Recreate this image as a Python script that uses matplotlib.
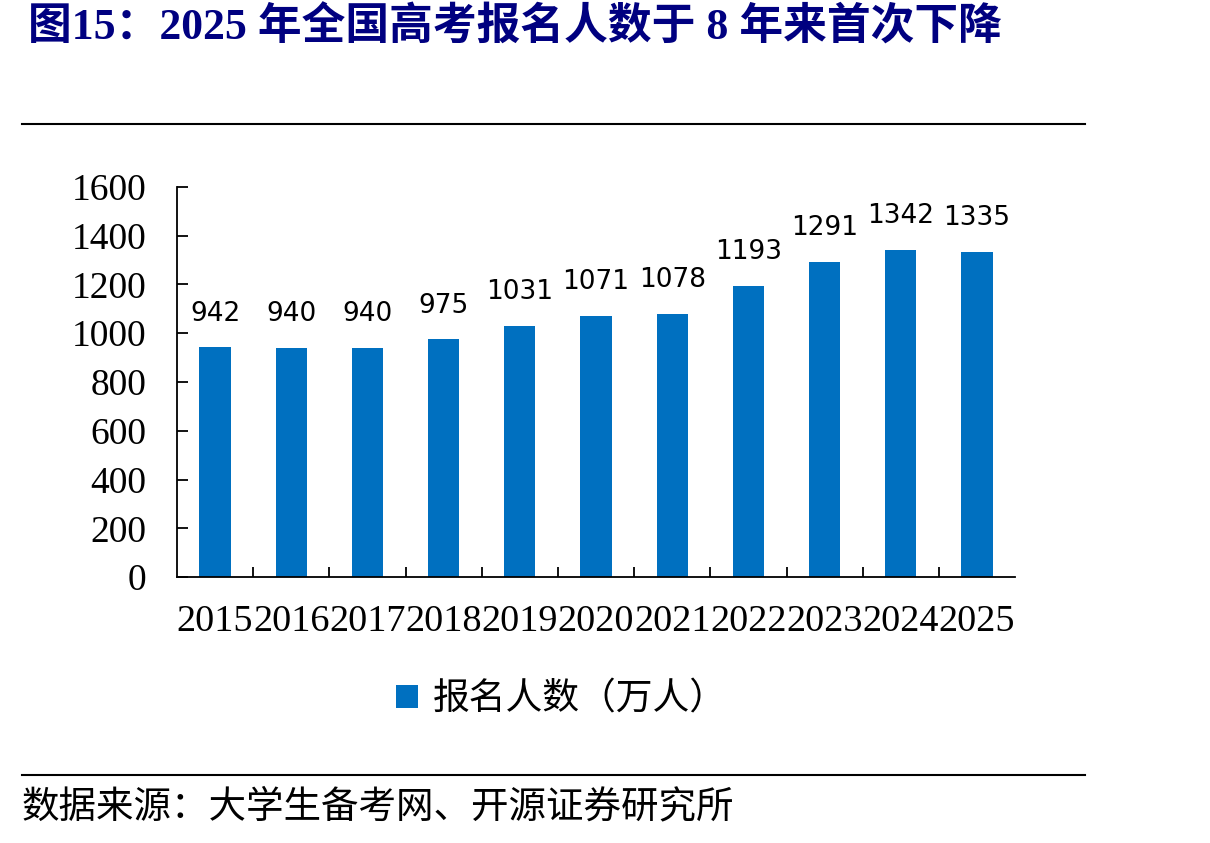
import matplotlib
matplotlib.use("Agg")
import matplotlib.pyplot as plt
from matplotlib.lines import Line2D
from matplotlib.ticker import FixedLocator

# --- data ---
years = ["2015", "2016", "2017", "2018", "2019", "2020", "2021", "2022", "2023", "2024", "2025"]
applicants = [942, 940, 940, 975, 1031, 1071, 1078, 1193, 1291, 1342, 1335]
y_ticks = [0, 200, 400, 600, 800, 1000, 1200, 1400, 1600]

TITLE = "图15：2025 年全国高考报名人数于 8 年来首次下降"
SERIES = "报名人数（万人）"
SOURCE = "数据来源：大学生备考网、开源证券研究所"

BAR_COLOR = "#0070C0"
TITLE_COLOR = "#000080"
SERIF_CJK = ["Liberation Serif", "Noto Sans CJK SC"]

fig = plt.figure(figsize=(12.1, 8.43), dpi=100)
ax = fig.add_axes([0.1463, 0.3155, 0.6926, 0.4627])

x = list(range(len(years)))
bars = ax.bar(x, applicants, width=0.41, color=BAR_COLOR, label=SERIES)

for xi, v in zip(x, applicants):
    ax.annotate(str(v), (xi, v), xytext=(0, 15), textcoords="offset points",
                ha="center", va="bottom", fontsize=19, family="DejaVu Sans")

ax.set_xlim(-0.5, len(years) - 0.5)
ax.set_ylim(0, 1600)
ax.set_yticks(y_ticks)
ax.set_xticks(x)
ax.set_xticklabels(years)
ax.xaxis.set_minor_locator(FixedLocator([i + 0.5 for i in x[:-1]]))

for lab in ax.get_yticklabels():
    lab.set_family("Liberation Serif")
    lab.set_fontsize(27)
for lab in ax.get_xticklabels():
    lab.set_family("Liberation Serif")
    lab.set_fontsize(27.5)

ax.tick_params(axis="y", direction="in", length=8, width=1.3, pad=22)
ax.tick_params(axis="x", which="major", length=0, pad=20)
ax.tick_params(axis="x", which="minor", direction="in", length=7, width=1.3)

ax.spines["top"].set_visible(False)
ax.spines["right"].set_visible(False)
ax.spines["left"].set_linewidth(1.3)
ax.spines["bottom"].set_linewidth(1.3)

fig.legend(handles=[bars], labels=[SERIES], loc="center",
           bbox_to_anchor=(0.464, 0.170), frameon=False,
           handlelength=0.6, handleheight=0.6, handletextpad=0.4,
           prop={"family": SERIF_CJK, "size": 26.5})

# title, rules and source
fig.text(0.023, 0.967, TITLE, ha="left", va="center", fontsize=31.5,
         fontweight="bold", color=TITLE_COLOR, family=SERIF_CJK)
fig.add_artist(Line2D([0.018, 0.897], [0.853, 0.853], color="black", lw=1.5))
fig.add_artist(Line2D([0.018, 0.897], [0.0807, 0.0807], color="black", lw=1.5))
fig.text(0.018, 0.0415, SOURCE, ha="left", va="center", fontsize=27,
         family=SERIF_CJK)

fig.savefig("out.png", dpi=100)
